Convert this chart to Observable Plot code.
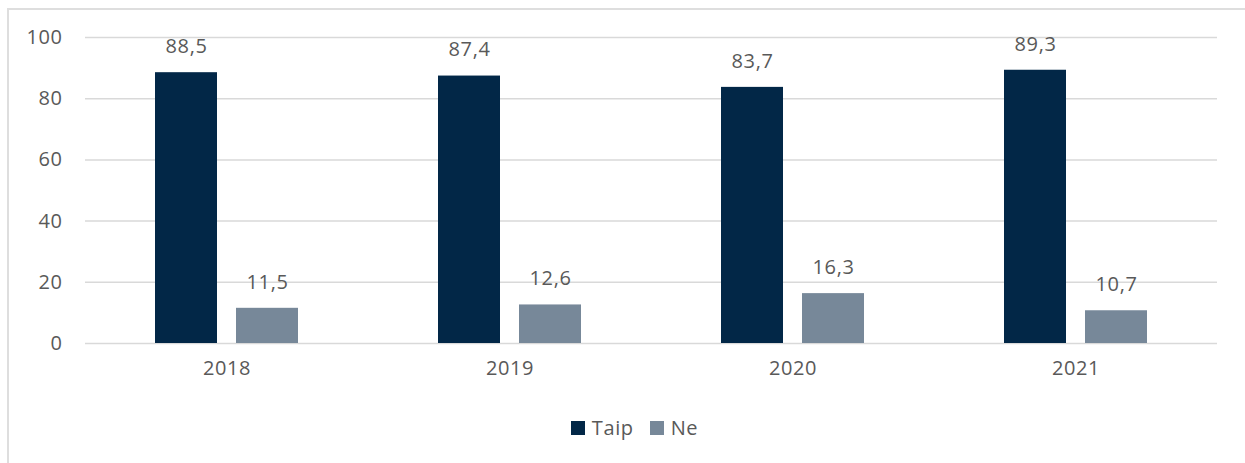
<!DOCTYPE html>
<html>
<head>
<meta charset="utf-8">
<script src="https://cdn.jsdelivr.net/npm/d3@7"></script>
<script src="https://cdn.jsdelivr.net/npm/@observablehq/plot@0.6"></script>
<style>
  html, body { margin: 0; padding: 0; background: #fff; }
  #wrap { position: relative; width: 1245px; height: 463px; overflow: hidden; font-family: "Open Sans", sans-serif; }
  #frame { position: absolute; left: 7px; top: 8px; width: 1300px; height: 500px; border-left: 2px solid #dedede; border-top: 2px solid #dedede; box-sizing: border-box; }
  #chart { position: absolute; left: 0; top: 0; }
  #legend { position: absolute; left: 12px; width: 1245px; top: 414px; display: flex; justify-content: center; gap: 16px; font-size: 20px; color: #595959; letter-spacing: 0.6px; }
  #legend .item { display: flex; align-items: center; gap: 7px; }
  #legend .sw { width: 14px; height: 14px; display: inline-block; }
</style>
</head>
<body>
<div id="wrap">
  <div id="frame"></div>
  <div id="chart"></div>
  <div id="legend"></div>
</div>
<script>
const years = ["2018", "2019", "2020", "2021"];
const series = ["Taip", "Ne"];
const taip = [88.5, 87.4, 83.7, 89.3];
const ne = [11.5, 12.6, 16.3, 10.7];
const yTicks = [0, 20, 40, 60, 80, 100];
const colors = ["#022747", "#778899"];

const data = [];
years.forEach((yr, i) => {
  data.push({year: yr, series: "Taip", value: taip[i]});
  data.push({year: yr, series: "Ne", value: ne[i]});
});
const fmt = v => v.toFixed(1).replace(".", ",");

const plot = Plot.plot({
  width: 1245,
  height: 400,
  marginTop: 37,
  marginBottom: 57,
  marginLeft: 83,
  marginRight: 27,
  style: {fontFamily: "Open Sans, sans-serif", fontSize: "20px", color: "#595959", background: "transparent", letterSpacing: "0.6px"},
  fx: {domain: years, padding: 0, axis: "bottom", label: null, tickSize: 0, tickPadding: 17},
  x: {domain: series, axis: null, paddingInner: 0.23, paddingOuter: 0.86},
  y: {domain: [0, 100], ticks: yTicks, axis: null},
  color: {domain: series, range: colors},
  marks: [
    Plot.ruleY(yTicks, {stroke: "#d9d9d9", strokeWidth: 1.5}),
    Plot.barY(data, {fx: "year", x: "series", y: "value", fill: "series"}),
    Plot.text(data, {fx: "year", x: "series", y: "value", text: d => fmt(d.value), dy: -26, fill: "#595959", fontSize: 20}),
    Plot.axisY(yTicks, {tickSize: 0, tickPadding: 23, fill: "#595959", fontSize: 20, label: null, facetAnchor: "left"})
  ]
});
document.getElementById("chart").appendChild(plot);

const legend = document.getElementById("legend");
series.forEach((s, i) => {
  const item = document.createElement("div");
  item.className = "item";
  const sw = document.createElement("span");
  sw.className = "sw";
  sw.style.background = colors[i];
  const t = document.createElement("span");
  t.textContent = s;
  item.appendChild(sw);
  item.appendChild(t);
  legend.appendChild(item);
});
</script>
</body>
</html>
